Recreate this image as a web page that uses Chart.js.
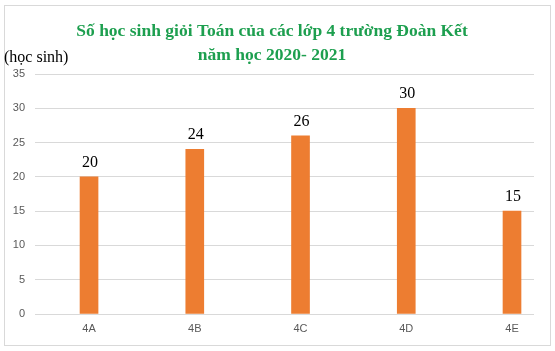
<!DOCTYPE html>
<html lang="vi">
<head>
    <meta charset="UTF-8">
    <title>Số học sinh giỏi Toán</title>
    <style>
        * { box-sizing: border-box; margin: 0; }
        html, body { width: 555px; height: 351px; background: #fff; overflow: hidden; }
        #wrap { position: relative; width: 555px; height: 351px; }
        #frame {
            position: absolute; left: 4px; top: 5px;
            width: 547px; height: 341px;
            border: 1px solid #d9d9d9;
        }
        canvas { position: absolute; left: 0; top: 0; }
    </style>
</head>
<body>
    <div id="wrap">
        <div id="frame"></div>
        <canvas id="chartCanvasId" width="555" height="351"></canvas>
    </div>

    <script src="https://cdn.jsdelivr.net/npm/chart.js@4.4.0/dist/chart.umd.min.js"></script>
    <script>
        "use strict";

        const classes    = ["4A", "4B", "4C", "4D", "4E"]
        const students   = [20, 24, 26, 30, 15]
        const yTicks     = [0, 5, 10, 15, 20, 25, 30, 35]
        const titleLines = ["Số học sinh giỏi Toán của các lớp 4 trường Đoàn Kết", "năm học 2020- 2021"]
        const yCaption   = "(học sinh)"

        // bars sit on a numeric x scale so the spacing can match the picture
        const points = classes.map((c, i) => ({ x: i, y: students[i] }))

        // title, y caption and value labels above the bars
        const textPlugin = {
            id: 'texts',
            afterDatasetsDraw(chart) {
                const ctx = chart.ctx
                ctx.save()
                ctx.fillStyle = '#1d9f4f'
                ctx.font = 'bold 17.5px "Liberation Serif", serif'
                ctx.textAlign = 'center'
                ctx.textBaseline = 'alphabetic'
                ctx.fillText(titleLines[0], 272, 36)
                ctx.fillText(titleLines[1], 272, 60)

                ctx.fillStyle = '#000'
                ctx.font = '16px "Liberation Serif", serif'
                ctx.textAlign = 'left'
                ctx.fillText(yCaption, 4, 62)

                const meta = chart.getDatasetMeta(0)
                ctx.textAlign = 'center'
                meta.data.forEach((bar, i) => {
                    ctx.fillText(String(students[i]), bar.x + 1, bar.y - 10)
                })
                ctx.restore()
            }
        }

        const chartCanvas  = document.getElementById('chartCanvasId')
        const chartContext = chartCanvas.getContext('2d')

        const myChart = new Chart(chartContext, {
            type: 'bar',
            data: {
                datasets: [{
                    data: points,
                    backgroundColor: '#ed7d31',
                    barThickness: 18
                }]
            },
            options: {
                responsive: false,
                animation: false,
                layout: { padding: { top: 74, right: 21, left: 0, bottom: 0 } },
                plugins: {
                    legend: { display: false },
                    tooltip: { enabled: false }
                },
                scales: {
                    x: {
                        type: 'linear',
                        offset: false,
                        min: -0.511,
                        max: 4.208,
                        grid: { display: false, drawTicks: false },
                        border: { display: false },
                        afterFit(scale) { scale.height = 37 },
                        afterBuildTicks(scale) {
                            scale.ticks = classes.map((c, i) => ({ value: i }))
                        },
                        ticks: {
                            padding: 8,
                            color: '#595959',
                            font: { family: '"Liberation Sans", sans-serif', size: 11 },
                            callback: (v) => classes[v] || ''
                        }
                    },
                    y: {
                        min: 0,
                        max: 35,
                        afterFit(scale) { scale.width = 35 },
                        afterBuildTicks(scale) {
                            scale.ticks = yTicks.map(v => ({ value: v }))
                        },
                        grid: { color: '#d9d9d9', lineWidth: 1, drawTicks: false },
                        border: { display: false },
                        ticks: {
                            padding: 10,
                            color: '#595959',
                            font: { family: '"Liberation Sans", sans-serif', size: 11 }
                        }
                    }
                }
            },
            plugins: [textPlugin]
        });
    </script>
</body>
</html>
